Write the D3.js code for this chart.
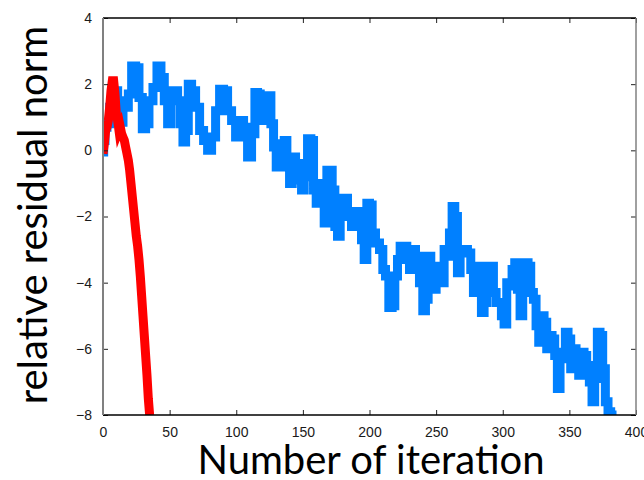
<!DOCTYPE html>
<html>
<head>
<meta charset="utf-8">
<script src="https://cdn.jsdelivr.net/npm/d3@7"></script>
<style>
  body { margin: 0; background: #fff; }
  .tick text { font-family: "Liberation Sans", Arial, sans-serif; font-size: 14px; fill: #1a1a1a; }
  .lbl { font-family: Lato, "Open Sans", sans-serif; font-size: 40px; fill: #000; }
</style>
</head>
<body>
<svg id="chart" width="644" height="480"></svg>
<script>
// iteration, log residual - blue run
const blueIter = [0,1,2,4,6,8,10,12,14,16,18,20,23,26,28,31,33,36,39,42,45,47,50,52,55,57,59,61,63,65,68,71,74,77,80,83,86,89,92,95,98,101,104,107,110,113,115,117,119,121,123,125,127,129,131,133,135,137,139,141,143,146,148,150,152,155,157,159,161,163,165,167,169,171,173,175,177,179,182,185,188,190,193,195,197,199,201,203,206,209,211,213,216,218,220,222,224,227,229,231,233,236,239,241,243,245,247,249,251,253,255,257,259,261,263,265,267,269,272,275,277,279,281,283,285,287,289,292,294,296,298,300,302,304,306,308,310,312,314,316,318,320,322,324,326,328,330,332,334,336,338,340,342,344,346,348,350,352,354,356,358,360,362,364,366,368,370,372,374,376,378,380,382]
const blueVal = [-0.05,0.3,0.7,0.8,1.3,1.6,1.8,1.2,0.85,1.5,1.3,1.7,2.55,2.5,1.6,0.65,0.8,1.5,1.9,2.55,2.2,1.5,0.8,1.8,1.8,1.5,0.8,0.25,0.6,2.0,1.8,1.3,0.6,0.3,0.0,0.4,1.2,1.85,1.8,1.2,0.9,0.4,0.9,0.7,-0.2,0.5,1.75,1.7,1.0,0.9,1.6,1.65,0.8,0.1,-0.5,-0.3,0.2,0.3,-0.5,-1.0,-0.2,-0.4,-0.9,-1.2,-0.8,0.35,0.3,-1.2,-1.6,-1.0,-1.3,-2.2,-0.6,-0.6,-1.2,-2.3,-2.6,-1.5,-1.45,-2.0,-2.3,-1.85,-2.0,-2.7,-3.3,-1.6,-1.65,-2.5,-2.8,-3.0,-3.6,-3.8,-4.75,-4.7,-3.8,-3.3,-2.9,-2.9,-3.3,-3.6,-3.0,-3.2,-4.0,-4.85,-4.5,-3.2,-3.6,-4.2,-3.5,-3.6,-4.0,-3.0,-3.2,-2.5,-1.7,-2.0,-3.7,-3.1,-3.0,-3.1,-3.6,-4.3,-3.5,-4.2,-4.9,-4.6,-3.5,-3.5,-4.3,-4.6,-4.6,-5.0,-5.25,-4.0,-4.1,-3.6,-3.4,-4.2,-5.0,-4.2,-3.4,-3.5,-4.3,-4.5,-5.3,-5.8,-5.0,-5.2,-6.0,-5.6,-5.7,-6.2,-7.2,-6.3,-6.1,-5.5,-5.7,-6.6,-6.0,-6.3,-6.8,-6.1,-6.2,-6.5,-7.0,-7.6,-6.9,-5.5,-5.6,-6.6,-7.6,-7.9,-8.0]

// red run
const redIter = [0,1,2,3,4,5,6,7,8,9,10,11,12,13,14,15,16,17,18,19,20,21,22,23,24,25,26,27,28,29,30,31,32,33,34,35]
const redVal = [-0.1,0.2,0.6,0.7,0.9,1.3,1.8,2.1,2.1,1.7,1.1,0.9,0.6,0.7,0.5,0.4,0.3,0.1,-0.1,-0.3,-0.6,-1.0,-1.4,-1.8,-2.2,-2.6,-2.9,-3.3,-3.8,-4.4,-5.0,-5.6,-6.2,-6.8,-7.5,-8.0]

const xTicks = [0,50,100,150,200,250,300,350,400]
const yTicks = [-8,-6,-4,-2,0,2,4]

const svg = d3.select('#chart')
const mLeft = 103, mRight = 636, mTop = 18, mBottom = 415

const x = d3.scaleLinear().domain([0, 400]).range([mLeft, mRight])
const y = d3.scaleLinear().domain([-8, 4]).range([mBottom, mTop])

svg.append('clipPath').attr('id', 'clip')
  .append('rect').attr('x', mLeft).attr('y', mTop).attr('width', mRight - mLeft).attr('height', mBottom - mTop)

const plot = svg.append('g').attr('clip-path', 'url(#clip)')

// blue is blocky, steps between samples
const stepLine = d3.line().x(d => x(d[0])).y(d => y(d[1])).curve(d3.curveStep)
const line = d3.line().x(d => x(d[0])).y(d => y(d[1]))

plot.append('path')
  .datum(d3.zip(blueIter, blueVal))
  .attr('d', stepLine)
  .attr('fill', 'none').attr('stroke', '#0080ff').attr('stroke-width', 9)
  .attr('stroke-linejoin', 'miter').attr('stroke-linecap', 'square')

plot.append('path')
  .datum(d3.zip(redIter, redVal))
  .attr('d', line)
  .attr('fill', 'none').attr('stroke', '#ff0000').attr('stroke-width', 9)

// axes, ticks pointing in
const gx = svg.append('g').attr('transform', `translate(0,${mBottom})`)
  .call(d3.axisBottom(x).tickValues(xTicks).tickSize(-5).tickPadding(12))
const gxt = svg.append('g').attr('transform', `translate(0,${mTop})`)
  .call(d3.axisTop(x).tickValues(xTicks).tickSize(-5).tickFormat(''))
const gy = svg.append('g').attr('transform', `translate(${mLeft},0)`)
  .call(d3.axisLeft(y).tickValues(yTicks).tickSize(-5).tickPadding(11))
const gyr = svg.append('g').attr('transform', `translate(${mRight},0)`)
  .call(d3.axisRight(y).tickValues(yTicks).tickSize(-5).tickFormat(''))

;[gx, gxt, gy, gyr].forEach(g => {
  g.select('.domain').remove()
  g.selectAll('.tick line').attr('stroke', '#222')
})

// frame
svg.append('line').attr('x1', mLeft).attr('x2', mRight).attr('y1', mTop).attr('y2', mTop).attr('stroke', '#000').attr('stroke-width', 1.5)
svg.append('line').attr('x1', mLeft).attr('x2', mRight).attr('y1', mBottom).attr('y2', mBottom).attr('stroke', '#000').attr('stroke-width', 1.5)
svg.append('line').attr('x1', mLeft).attr('x2', mLeft).attr('y1', mTop).attr('y2', mBottom).attr('stroke', '#808080').attr('stroke-width', 2)
svg.append('line').attr('x1', mRight).attr('x2', mRight).attr('y1', mTop).attr('y2', mBottom).attr('stroke', '#808080').attr('stroke-width', 1.5)

svg.append('text').attr('class', 'lbl')
  .attr('x', 371).attr('y', 474).attr('text-anchor', 'middle')
  .text('Number of iteration')

svg.append('text').attr('class', 'lbl')
  .attr('transform', 'translate(47,215) rotate(-90)')
  .attr('text-anchor', 'middle')
  .text('relative residual norm')
</script>
</body>
</html>
